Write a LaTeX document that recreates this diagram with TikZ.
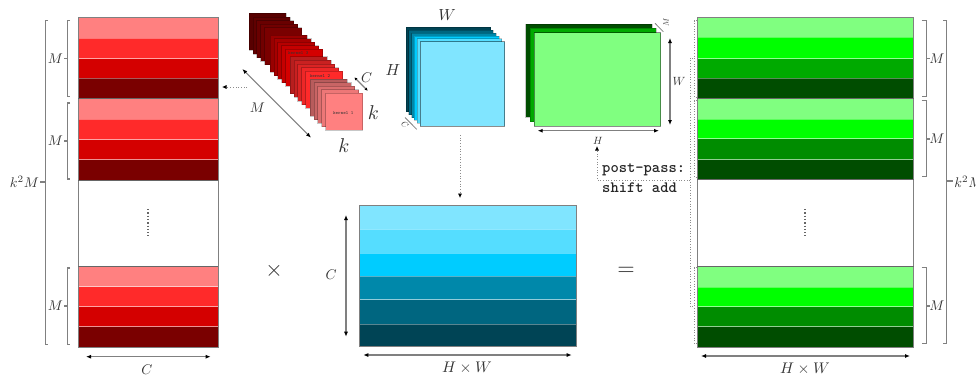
\documentclass[tikz,border=0pt]{standalone}
\usetikzlibrary{arrows.meta,calc}
\definecolor{rA}{HTML}{FF8080}\definecolor{rB}{HTML}{FF2A2A}\definecolor{rC}{HTML}{D40000}\definecolor{rD}{HTML}{7A0000}
\definecolor{gA}{HTML}{80FF80}\definecolor{gB}{HTML}{00FF00}\definecolor{gC}{HTML}{00AA00}\definecolor{gE}{HTML}{008C00}\definecolor{gD}{HTML}{004D00}
\definecolor{bA}{HTML}{80E5FF}\definecolor{bB}{HTML}{55DDFF}\definecolor{bC}{HTML}{00CCFF}\definecolor{bD}{HTML}{0088AA}\definecolor{bE}{HTML}{006680}\definecolor{bF}{HTML}{004455}
\tikzset{
  cell/.style={inner sep=0pt,outer sep=0pt,draw=white,draw opacity=.35,line width=.7pt},
  frame/.style={inner sep=0pt,outer sep=0pt,draw=black!50,line width=1pt},
  sheet/.style={inner sep=0pt,outer sep=0pt,draw=black,draw opacity=.22,line width=.7pt,anchor=north west},
  frontsheet/.style={sheet,draw opacity=.45,line width=.9pt},
  dim/.style={draw=black!50,line width=1.1pt,{Latex[black,length=5pt,width=4pt]}-{Latex[black,length=5pt,width=4pt]}},
  brace/.style={draw=black!50,line width=1.1pt},
  dotline/.style={draw=black!45,dotted,line width=.7pt},
  dotarrow/.style={dotline,-{Latex[black,length=4.5pt,width=4pt]}},
  dotcol/.style={draw=black!60,dotted,line width=1.3pt},
  lab/.style={inner sep=0pt,scale=1.4,text=black!80},
  kname/.style={inner sep=0pt,font=\ttfamily\fontsize{4.8}{5}\selectfont,text=black!80}
}
% name, x0, y0, x1, y1, colour
\newcommand{\cellbox}[7][cell]{\node[#1,fill=#7,minimum width={(#5-#3)*1pt},minimum height={(#6-#4)*1pt}] (#2) at ({(#3+#5)/2},{(#4+#6)/2}) {};}
\begin{document}
\begin{tikzpicture}[x=1pt,y=-1pt]
\useasboundingbox (0,0) rectangle (976,376);
% ---------- left (red) matrix
\cellbox{ra1}{78}{17.3}{218.3}{38.3}{rA}\cellbox{ra2}{78}{38.3}{218.3}{58.7}{rB}\cellbox{ra3}{78}{58.7}{218.3}{78.3}{rC}\cellbox{ra4}{78}{78.3}{218.3}{98.7}{rD}
\cellbox{rb1}{78}{98.7}{218.3}{119.3}{rA}\cellbox{rb2}{78}{119.3}{218.3}{139.7}{rB}\cellbox{rb3}{78}{139.7}{218.3}{159.7}{rC}\cellbox{rb4}{78}{159.7}{218.3}{180}{rD}
\cellbox{rc1}{78}{266}{218.3}{286.7}{rA}\cellbox{rc2}{78}{286.7}{218.3}{306.7}{rB}\cellbox{rc3}{78}{306.7}{218.3}{326.7}{rC}\cellbox{rc4}{78}{326.7}{218.3}{347.3}{rD}
\draw[frame] (78,17.3) rectangle (218.3,347.3);
\draw[black!60,line width=1pt] (78,98.7) -- (218.3,98.7) (78,180) -- (218.3,180) (78,266) -- (218.3,266);
\draw[dotcol] (148,209) -- (148,236);
% brackets left
\draw[brace] (70,20.7) -- (67.3,20.7) -- (67.3,96.7) -- (70,96.7) (67.3,58.7) -- (64,58.7);
\draw[brace] (70,103) -- (67.3,103) -- (67.3,179) -- (70,179) (67.3,141) -- (64,141);
\draw[brace] (70,268) -- (67.3,268) -- (67.3,344.3) -- (70,344.3) (67.3,306) -- (64,306);
\draw[brace] (48,20.7) -- (45.3,20.7) -- (45.3,344.3) -- (48,344.3) (45.3,182) -- (40,182);
\node[lab] (rm1) at (55.5,58.7) {$M$};
\node[lab] (rm2) at (55.5,141) {$M$};
\node[lab] (rm3) at (55.5,306) {$M$};
\node[lab] (rk) at (24.5,182) {$k^2M$};
\coordinate (rcl) at (86,356.7);\coordinate (rcr) at (210.7,356.7);
\draw[dim] (rcl) -- (rcr);
\node[lab] (rcc) at (147,370) {$C$};
% ---------- kernel stack
\foreach \g/\gx/\gy/\col in {4/249/13.3/rD,3/270/35/rC,2/290/56.7/rB,1/310/79/rA}{
  \foreach \i in {0,...,4}{
    \pgfmathsetmacro{\p}{100-(4-\i)*7}
    \node[sheet,fill=\col!\p!black,minimum size=37pt] (k\g\i) at ({\gx+\i*3.9},{\gy+\i*3.6}) {};
  }
}
\node[kname] (kn3) at (298.3,52.7) {kernel 3};
\node[kname] (kn2) at (320,75.7) {kernel 2};
\node[kname] (kn1) at (343.3,113.3) {kernel 1};
\coordinate (ma) at (242.3,69);\coordinate (mb) at (311,137.7);
\draw[dim] (ma) -- (mb);
\node[lab] (km) at (257.3,107.3) {$M$};
\coordinate (ca) at (354.3,77.3);\coordinate (cb) at (367.7,90.7);
\draw[dim,{Latex[black,length=3pt,width=3pt]}-{Latex[black,length=3pt,width=3pt]}] (ca) -- (cb);
\node[lab] (kc) at (366.7,77.3) {$C$};
\node[lab,scale=1.43] (kk1) at (373.5,112.7) {$k$};
\node[lab,scale=1.43] (kk2) at (344,145.7) {$k$};
\coordinate (kout) at (247,87);\coordinate (rin) at (222,87);
\draw[dotarrow] (kout) -- (rin);
% ---------- blue stack
\foreach \i/\col in {0/bF,1/bE,2/bD,3/bC,4/bB}{
  \node[sheet,fill=\col,minimum size=84.5pt] (bs\i) at ({406+\i*2.8},{27.3+\i*2.88}) {};
}
\node[frontsheet,fill=bA,minimum size=84.5pt] (bs5) at ({406+5*2.8},{27.3+5*2.88}) {};
\node[lab,scale=1.15] (bw) at (447,15) {$W$};
\node[lab,scale=1.15] (bh) at (393,70) {$H$};
\coordinate (bca) at (405,117.5);\coordinate (bcb) at (416.7,129.3);
\draw[brace,line width=.8pt] (bca) -- (bcb);
\node[lab,scale=.6,rotate=-45] (bc) at (405,125) {$C$};
% ---------- green stack
\foreach \i/\col in {0/gD,1/gC}{
  \node[sheet,fill=\col,minimum width=126.4pt,minimum height=93.3pt] (gs\i) at ({525.7+\i*4.3},{24+\i*4.35}) {};
}
\node[frontsheet,fill=gA,minimum width=126.4pt,minimum height=93.3pt] (gs2) at ({525.7+2*4.3},{24+2*4.35}) {};
\coordinate (gwa) at (670,38);\coordinate (gwb) at (670,125);
\draw[dim] (gwa) -- (gwb);
\node[lab,scale=.85] (gw) at (679,81) {$W$};
\coordinate (gha) at (537.7,130.7);\coordinate (ghb) at (659,130.7);
\draw[dim] (gha) -- (ghb);
\node[lab,scale=.75] (gh) at (598,141) {$H$};
\coordinate (gma) at (655,23.3);\coordinate (gmb) at (663.3,31.7);
\draw[brace,line width=.8pt] (gma) -- (gmb);
\node[lab,scale=.55,rotate=90] (gm) at (666,22) {$M$};
% ---------- blue matrix
\cellbox{c1}{359}{205.7}{576.3}{229}{bA}\cellbox{c2}{359}{229}{576.3}{253.3}{bB}\cellbox{c3}{359}{253.3}{576.3}{276}{bC}
\cellbox{c4}{359}{276}{576.3}{299.7}{bD}\cellbox{c5}{359}{299.7}{576.3}{324}{bE}\cellbox{c6}{359}{324}{576.3}{346.7}{bF}
\draw[frame] (359,205.7) rectangle (576.3,346.7);
\coordinate (bo) at (460,135);\coordinate (bi) at (460,198);
\draw[dotarrow] (bo) -- (bi);
\coordinate (cca) at (346,215);\coordinate (ccb) at (346,336.7);
\draw[dim] (cca) -- (ccb);
\node[lab] (cc) at (331,275) {$C$};
\coordinate (hwa) at (363.3,355);\coordinate (hwb) at (571.7,355);
\draw[dim] (hwa) -- (hwb);
\node[lab,scale=1.1] (hw) at (467,368) {$H\times W$};
% ---------- operators
\node[lab,scale=1.6] (times) at (274,271) {$\times$};
\node[lab,scale=1.6] (equals) at (626,271) {$=$};
% ---------- green matrix
\cellbox{ga1}{697.3}{17.3}{913.7}{37.3}{gA}\cellbox{ga2}{697.3}{37.3}{913.7}{58.7}{gB}\cellbox{ga3}{697.3}{58.7}{913.7}{78.3}{gC}\cellbox{ga4}{697.3}{78.3}{913.7}{98}{gD}
\cellbox{gb1}{697.3}{98}{913.7}{119}{gA}\cellbox{gb2}{697.3}{119}{913.7}{138.7}{gB}\cellbox{gb3}{697.3}{138.7}{913.7}{159.7}{gE}\cellbox{gb4}{697.3}{159.7}{913.7}{179}{gD}
\cellbox{gc1}{697.3}{266.3}{913.7}{287}{gA}\cellbox{gc2}{697.3}{287}{913.7}{306.7}{gB}\cellbox{gc3}{697.3}{306.7}{913.7}{326.7}{gE}\cellbox{gc4}{697.3}{326.7}{913.7}{347}{gD}
\draw[frame] (697.3,17.3) rectangle (913.7,347);
\draw[black!60,line width=1pt] (697.3,98) -- (913.7,98) (697.3,179) -- (913.7,179) (697.3,266.3) -- (913.7,266.3);
\draw[dotcol] (805,209) -- (805,236);
\draw[brace] (921.7,20.7) -- (926.7,20.7) -- (926.7,96.7) -- (921.7,96.7) (926.7,58.7) -- (930,58.7);
\draw[brace] (921.7,100.7) -- (926.7,100.7) -- (926.7,176.7) -- (921.7,176.7) (926.7,139) -- (930,139);
\draw[brace] (921.7,267.7) -- (926.7,267.7) -- (926.7,343.3) -- (921.7,343.3) (926.7,306) -- (930,306);
\draw[brace] (943.3,20.7) -- (946.7,20.7) -- (946.7,343.3) -- (943.3,343.3) (946.7,181) -- (953,181);
\node[lab] (gm1) at (937,58.7) {$M$};
\node[lab] (gm2) at (937,139) {$M$};
\node[lab] (gm3) at (937,306) {$M$};
\node[lab,anchor=west] (gk) at (954,181.5) {$k^2M$};
\coordinate (gbl) at (701,356);\coordinate (gbr) at (910,356);
\draw[dim] (gbl) -- (gbr);
\node[lab,scale=1.1] (gbw) at (805,369) {$H\times W$};
% dotted brackets beside green matrix
\draw[dotline] (697,20.7) -- (694,20.7) -- (694,97) -- (697,97);
\draw[dotline] (697,100.7) -- (694,100.7) -- (694,177) -- (697,177);
\draw[dotline] (697,267.7) -- (694,267.7) -- (694,343.5) -- (697,343.5);
\draw[dotline] (693,58) -- (690,58) -- (690,306.5) -- (693,306.5);
\coordinate (pa) at (690,180);\coordinate (pb) at (597,180);\coordinate (pc) at (597,146);
\draw[dotarrow] (pa) -- (pb) -- (pc);
\node[inner sep=0pt,anchor=west,text=black!85,font=\ttfamily\bfseries\fontsize{15.8}{18}\selectfont] (pp1) at (602,170) {post-pass:};
\node[inner sep=0pt,anchor=west,text=black!85,font=\ttfamily\bfseries\fontsize{15.8}{18}\selectfont] (pp2) at (602,188) {shift add};
\end{tikzpicture}
\end{document}
